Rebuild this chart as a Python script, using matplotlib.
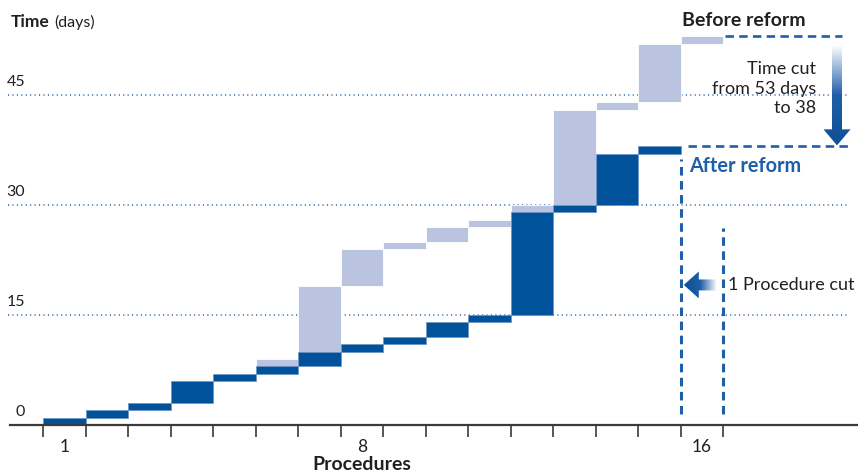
import numpy as np
import matplotlib.pyplot as plt
from matplotlib.patches import Polygon

plt.rcParams['font.family'] = ['Lato', 'DejaVu Sans']

# durations (days) of each procedure
before_days = [1, 1, 1, 3, 1, 2, 10, 5, 1, 2, 1, 2, 13, 1, 8, 1]
after_days = [1, 1, 1, 3, 1, 1, 2, 1, 1, 2, 1, 14, 1, 7, 1]
y_ticks = [0, 15, 30, 45]
x_labels = {1: '1', 8: '8', 16: '16'}

light = '#BAC4E0'
dark = '#00529B'
line_blue = '#1F5FA8'
txt = '#231F20'

# layout: pixel scale of the axes
PX_X = 42.5      # px per procedure
PX_Y = 7.333     # px per day
X_ORIG, Y_ORIG = 43.3, 425.0
W, H = 858, 474

def dx(px):
    return px / PX_X

def dy(px):
    return px / PX_Y

fig = plt.figure(figsize=(W / 100, H / 100), dpi=100)
ax = fig.add_axes([0, 0, 1, 1])
ax.axis('off')
xlim = (-X_ORIG / PX_X, (W - X_ORIG) / PX_X)
ylim = ((Y_ORIG - H) / PX_Y, Y_ORIG / PX_Y)

before_end = np.cumsum(before_days)
after_end = np.cumsum(after_days)
nb, na = len(before_days), len(after_days)
tot_b, tot_a = before_end[-1], after_end[-1]

# gridlines
for v in y_ticks[1:]:
    ax.plot([xlim[0] + dx(8), xlim[1] - dx(10)], [v, v], color=line_blue,
            lw=1.1, ls=(0, (0.7, 2.2)), zorder=1)

# bars
ax.bar(np.arange(nb) + 0.5, before_days, bottom=before_end - before_days,
       width=1, color=light, edgecolor='white', lw=0.6, zorder=2)
ax.bar(np.arange(na) + 0.5, after_days, bottom=after_end - after_days,
       width=1, color=dark, edgecolor='#6E93C4', lw=0.5, zorder=3)

# x axis and ticks
ax.plot([xlim[0] + dx(10), xlim[1]], [0, 0], color='#3A3A3A', lw=1.6, zorder=4)
ax.vlines(np.arange(nb + 1), -dy(12), 0, color='#3A3A3A', lw=1.2, zorder=4)
for k, s in x_labels.items():
    ax.text(k - 0.5, -dy(22), s, ha='center', va='center', fontsize=12.5, color=txt)
ax.text(7.5, -dy(40), 'Procedures', ha='center', va='center', fontsize=14,
        fontweight='bold', color=txt)

# y labels
for v in y_ticks:
    ax.text(-dx(18), v + dy(6), str(v), ha='right', va='bottom', fontsize=11.5, color=txt)
ax.text(-dx(33), ylim[1] - dy(22), 'Time', ha='left', va='center', fontsize=12.5,
        fontweight='bold', color=txt)
ax.text(-dx(-11), ylim[1] - dy(22), '(days)', ha='left', va='center', fontsize=11.5,
        color=txt)

# dashed reference lines
dash = (0, (3.2, 2.0))
ax.plot([nb + dx(2), xlim[1] - dx(16)], [tot_b, tot_b], color=line_blue, lw=1.9, ls=dash, zorder=5)
ax.plot([na + dx(7), xlim[1] - dx(8)], [tot_a, tot_a], color=line_blue, lw=1.9, ls=dash, zorder=5)
ax.vlines(na, dy(11), tot_a - dy(13), color=line_blue, lw=2.2, ls=(0, (2.8, 1.8)), zorder=5)
ax.vlines(nb, dy(11), tot_a - dy(82), color=line_blue, lw=2.2, ls=(0, (2.8, 1.8)), zorder=5)

ax.text(na + dx(1), tot_b + dy(16), 'Before reform', ha='left', va='center',
        fontsize=14, fontweight='bold', color=txt)
ax.text(na + dx(8), tot_a - dy(20), 'After reform', ha='left', va='center',
        fontsize=14.3, fontweight='bold', color=line_blue)
ax.text(xlim[1] - dx(42), tot_b - dy(25), 'Time cut\nfrom 53 days\nto 38', ha='right',
        va='top', fontsize=13, color=txt, linespacing=1.25)
ax.text(nb + dx(5), 19.1, '1 Procedure cut', ha='left', va='center', fontsize=13, color=txt)


def gradient_arrow(verts, horizontal):
    poly = Polygon(verts, closed=True, facecolor='none', edgecolor='none', zorder=6)
    ax.add_patch(poly)
    xs, ys = zip(*verts)
    g = np.linspace(0, 1, 256)
    g = g[None, :] if horizontal else g[:, None]
    cmap = plt.matplotlib.colors.LinearSegmentedColormap.from_list('g', ['white', line_blue, '#0E4F98'])
    if horizontal:
        img = ax.imshow(g[:, ::-1], cmap=cmap, extent=(min(xs), max(xs), min(ys), max(ys)),
                        aspect='auto', origin='lower', zorder=6)
    else:
        img = ax.imshow(g[::-1], cmap=cmap, extent=(min(xs), max(xs), min(ys), max(ys)),
                        aspect='auto', origin='lower', zorder=6)
    img.set_clip_path(poly)


# down arrow: from before total to after total
ax_x = xlim[1] - dx(21)
top = tot_b - dy(9)
tip = tot_a + dy(1)
hl, sw, hw = dy(16), dx(5), dx(13.5)
gradient_arrow([(ax_x - sw, top), (ax_x + sw, top), (ax_x + sw, tip + hl), (ax_x + hw, tip + hl),
                (ax_x, tip), (ax_x - hw, tip + hl), (ax_x - sw, tip + hl)], horizontal=False)

# left arrow: one procedure less
ly = 19.1
tip_x = na + dx(3)
tail_x = nb - dx(7)
hlx, sh, hh = dx(15), dy(5.5), dy(13.5)
gradient_arrow([(tail_x, ly - sh), (tail_x, ly + sh), (tip_x + hlx, ly + sh), (tip_x + hlx, ly + hh),
                (tip_x, ly), (tip_x + hlx, ly - hh), (tip_x + hlx, ly - sh)], horizontal=True)

ax.set_xlim(*xlim)
ax.set_ylim(*ylim)
fig.savefig('out.png', dpi=100)
